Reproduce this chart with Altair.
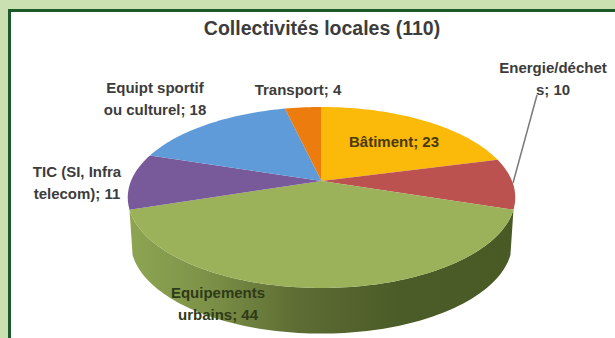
import math
import altair as alt
import pandas as pd

# Project counts per sector, clockwise from the top of the pie
categories = ["Bâtiment", "Energie/déchets", "Equipements urbains", "TIC (SI, Infra telecom)",
              "Equipt sportif ou culturel", "Transport"]
values = [23, 10, 44, 11, 18, 4]
colors = ["#fbb90a", "#bb5250", "#9bb25a", "#78599a", "#5f9bd8", "#ec7c0e"]
title_text = "Collectivités locales (110)"

W, H = 615, 338
FONT = "Liberation Sans"
INK = "#3c3c3c"

total = sum(values)


def project(theta, cy, a, b):
    """Perspective view of a point on the pie's rim."""
    w = 1 + 0.182 * math.cos(theta)
    return [321.5 + a * math.sin(theta) / w, cy - b * math.cos(theta) / w]


def arc(start, end, cy=181, a=190.5, b=87.5):
    steps = max(2, int(abs(end - start) * 40))
    return [project(start + (end - start) * i / steps, cy, a, b) for i in range(steps + 1)]


def shape(ring):
    return {"type": "Feature", "properties": {},
            "geometry": {"type": "Polygon", "coordinates": [ring]}}


def geo(features, **mark):
    return alt.Chart(alt.Data(values=features)).mark_geoshape(**mark).project(
        type="identity", scale=1, translate=[0, 0])


# Accumulate slice boundaries in radians
bounds = [0.0]
for v in values:
    bounds.append(bounds[-1] + v / total * 2 * math.pi)

# Outer wall of the green slice, the only one facing the viewer
wall_ring = arc(bounds[2], bounds[3]) + arc(bounds[3], bounds[2], cy=226, a=187.5, b=88)
wall_ring.append(wall_ring[0])
wall = geo([shape(wall_ring)],
           fill=alt.LinearGradient(
               gradient="linear", x1=0, x2=1, y1=0, y2=0,
               stops=[alt.GradientStop(offset=0, color="#8da552"),
                      alt.GradientStop(offset=0.2, color="#7d9248"),
                      alt.GradientStop(offset=0.44, color="#5d6c33"),
                      alt.GradientStop(offset=0.7, color="#4c5c28"),
                      alt.GradientStop(offset=1, color="#4a5a25")]),
           strokeWidth=0)

# Top faces
slices = []
for i, c in enumerate(colors):
    ring = [[321.5, 181]] + arc(bounds[i], bounds[i + 1]) + [[321.5, 181]]
    slices.append(geo([shape(ring)], fill=c, strokeWidth=0))

one_row = pd.DataFrame({"a": [0]})

# Page frame
page = alt.Chart(one_row).mark_rect(color="#cbe0b0").encode(
    x=alt.value(0), x2=alt.value(W), y=alt.value(0), y2=alt.value(H))
border = alt.Chart(one_row).mark_rect(color="#1d5a2a").encode(
    x=alt.value(8), x2=alt.value(W), y=alt.value(9), y2=alt.value(H))
inner = alt.Chart(one_row).mark_rect(color="#ffffff").encode(
    x=alt.value(11), x2=alt.value(W), y=alt.value(12), y2=alt.value(H))

# Leader line of the energy label
leader = alt.Chart(one_row).mark_rule(color="#7a7a7a", strokeWidth=1.5).encode(
    x=alt.value(537), x2=alt.value(513), y=alt.value(95), y2=alt.value(183))


def label(lines, x, y, size=15, color=INK):
    return alt.Chart(alt.Data(values=[{"t": lines}])).mark_text(
        font=FONT, fontWeight="bold", fontSize=size, color=color, align="center",
        baseline="middle", lineHeight=22).encode(
        text=alt.Text("t:N"), x=alt.value(x), y=alt.value(y))


labels = [
    label([title_text], 322, 29, size=19.5),
    label([f"{categories[0]}; {values[0]}"], 394, 142, color="#4a3a08"),
    label(["Energie/déchet", f"s; {values[1]}"], 553, 68),
    label(["Equipements", f"urbains; {values[2]}"], 218, 293, color="#2f3a18"),
    label(["TIC (SI, Infra", f"telecom); {values[3]}"], 77, 172),
    label(["Equipt sportif", f"ou culturel; {values[4]}"], 155, 88),
    label([f"{categories[5]}; {values[5]}"], 298, 90),
]

chart = alt.layer(page, border, inner, wall, *slices, leader, *labels).properties(
    width=W, height=H, padding=0, autosize=alt.AutoSizeParams(type="none"),
    background="#ffffff"
).configure_view(stroke=None)

chart.save("out.html", embed_options={"renderer": "svg", "actions": False})
